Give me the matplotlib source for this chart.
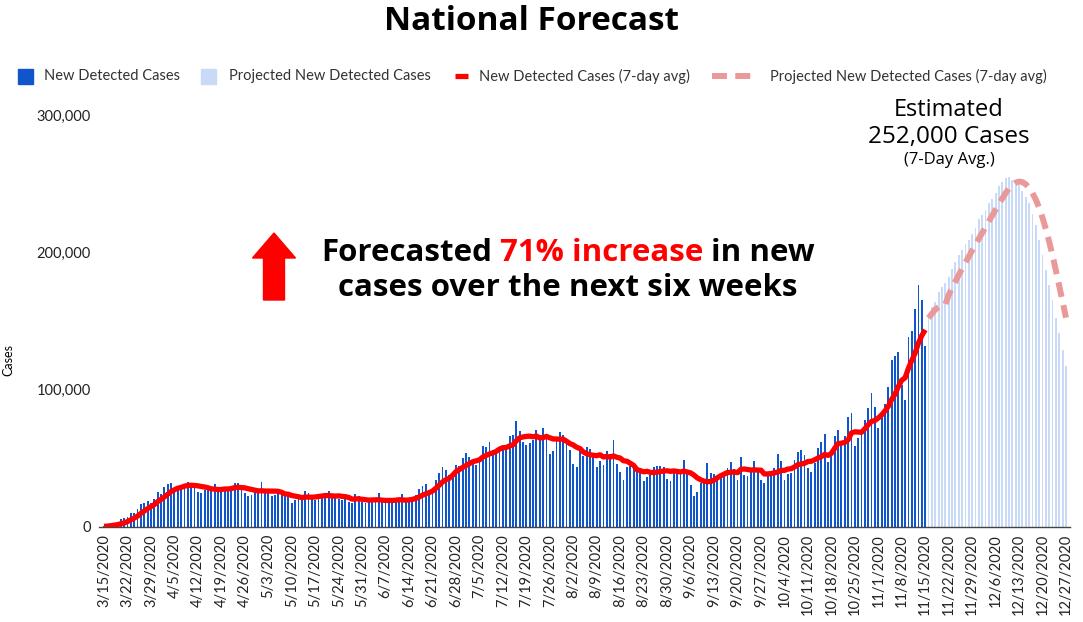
import numpy as np
import pandas as pd
import matplotlib
matplotlib.use("Agg")
import matplotlib.pyplot as plt
from matplotlib.patches import Rectangle, FancyArrow
from matplotlib.lines import Line2D

plt.rcParams['font.family'] = ['Lato', 'DejaVu Sans']

# daily new detected cases (thousands), one row per week starting Sun 3/15/2020
observed_k = [
    0.5, 0.8, 1.5, 2.5, 3.2, 5.6, 6.5,
    7.5, 10, 10, 12.9, 16.8, 17.7, 18.7,
    17.7, 20.2, 25.5, 24, 29.4, 31.3, 32.3,
    27, 28.2, 29.4, 30.6, 33, 32.3, 31,
    25.5, 24.5, 27, 27, 27, 31.3, 28.5,
    26, 27, 27, 29, 32.3, 32.3, 27,
    25, 22.6, 23.3, 25.8, 28, 33, 25.7,
    24.5, 22.6, 23.3, 24.5, 23.3, 24.5, 24.5,
    17.7, 19.7, 20.2, 19.7, 26.5, 24.5, 23.3,
    19.3, 22.2, 22.2, 22.2, 26.5, 22.9, 22.2,
    20.5, 19.7, 20.5, 18.5, 17.7, 24, 22.6,
    18.5, 17.3, 18.5, 19.2, 18.5, 24.5, 20.2,
    17.3, 17.3, 18.5, 20.2, 20.9, 24, 18.5,
    18.5, 20.2, 23.3, 27.5, 29.9, 31.3, 24.5,
    26.5, 34.3, 39, 44, 41.6, 38, 40.3,
    45.2, 44.5, 50, 54, 51, 47.4, 45.2,
    50, 59, 58, 62, 56, 55, 57.3,
    57, 60, 66, 67, 77, 70, 62,
    60, 61, 63, 70.7, 67, 72, 68,
    53, 55, 63, 69.5, 67, 61.5, 56,
    46, 43.5, 56.5, 52, 58, 56.5, 53,
    44, 48, 45.5, 55, 53.5, 63.4, 46,
    40, 34, 43.5, 44.5, 42.8, 41.6, 41,
    33.8, 36.7, 38, 44, 44.5, 44.5, 44,
    34.8, 33.8, 40.3, 41.6, 41.6, 49, 39,
    30.6, 22.6, 25.8, 32.3, 34.3, 46.4, 39.6,
    38.4, 34.3, 36, 40.3, 42.8, 47.1, 42,
    34.3, 51.3, 37.9, 37.4, 40.3, 48.4, 40.3,
    34.3, 31.8, 37.9, 39.6, 43.3, 53.2, 48.4,
    34.3, 38.6, 39.6, 48.8, 54.9, 56.1, 52.5,
    43.3, 39.9, 46.9, 57.8, 62, 67.6, 47.4,
    53.7, 65.9, 70.7, 60, 66, 80.4, 82.9,
    59.3, 64.6, 69.5, 78, 86.5, 97.4, 87.7,
    71.9, 80.4, 89.4, 102.3, 121.3, 124.2, 127.1,
    103.5, 92.6, 138.3, 142.4, 158.7, 175.9, 165,
    132,
]

# projected daily cases (thousands), 11/16 - 12/27
projected_k = [
    153, 160, 164, 171, 175, 178, 182, 188, 193, 198,
    202, 206, 209, 213, 218, 224, 227, 231, 236, 239,
    243, 248, 251, 254, 255, 253, 251, 249, 245, 240,
    236, 228, 220, 209, 198, 187, 176, 165, 152, 141,
    129, 117,
]

start_date = "2020-03-15"
y_ticks = [0, 100000, 200000, 300000]

observed = np.array(observed_k) * 1000
projected = np.array(projected_k) * 1000
n_obs = len(observed)
n_all = n_obs + len(projected)
days = np.arange(n_all)
dates = pd.date_range(start_date, periods=n_all)

avg = pd.Series(np.concatenate([observed, projected])).rolling(7, min_periods=1).mean().values

W, H = 1083, 622
fig = plt.figure(figsize=(W / 100, H / 100), dpi=100)
ax = fig.add_axes([99 / W, 1 - 527 / H, 971 / W, 412 / H])

dark_blue = '#1155cc'
light_blue = '#c9daf8'
red = '#ff0000'
pink = '#ea9999'

ax.bar(days[:n_obs], observed, width=0.55, color=dark_blue, linewidth=0)
ax.bar(days[n_obs:], projected, width=0.55, color=light_blue, linewidth=0)
ax.plot(days[:n_obs], avg[:n_obs], color=red, lw=3.8, solid_capstyle='butt', zorder=3)
ax.plot(days[n_obs:], avg[n_obs:], color=pink, lw=4.3, dashes=(2.5, 1.4),
        dash_capstyle='butt', zorder=3)

ax.set_xlim(-1.5, 288.2)
ax.set_ylim(0, 300000)
ax.set_yticks(y_ticks)
ax.set_yticklabels([f"{v:,}" for v in y_ticks], fontsize=10.5, color='#222222')
ax.set_xticks(days[::7])
ax.set_xticklabels([f"{d.month}/{d.day}/{d.year}" for d in dates[::7]],
                   rotation=90, fontsize=10.5, color='#222222')
ax.tick_params(axis='both', length=0)
ax.tick_params(axis='x', pad=5)
ax.tick_params(axis='y', pad=6)
for s in ['top', 'right', 'left']:
    ax.spines[s].set_visible(False)
ax.spines['bottom'].set_color('#444444')
ax.spines['bottom'].set_linewidth(1)

fig.text(8 / W, 1 - 360 / H, "Cases", rotation=90, fontsize=9, ha='center', va='center')

# title
fig.text(532 / W, 1 - 22 / H, "National Forecast", fontsize=24, fontweight='bold',
         family=['Open Sans', 'DejaVu Sans'], ha='center', va='center')

# legend, drawn by hand
ly = 1 - 76 / H
sq = 15
fig.add_artist(Rectangle((18 / W, ly - sq / 2 / H), sq / W, sq / H, color=dark_blue,
                         transform=fig.transFigure))
fig.text(44 / W, ly, "New Detected Cases", fontsize=10.5, color='#333333', va='center')
fig.add_artist(Rectangle((201 / W, ly - sq / 2 / H), sq / W, sq / H, color=light_blue,
                         transform=fig.transFigure))
fig.text(229 / W, ly, "Projected New Detected Cases", fontsize=10.5, color='#333333', va='center')
fig.add_artist(Line2D([455 / W, 468 / W], [ly, ly], color=red, lw=3.8,
                      solid_capstyle='butt', transform=fig.transFigure))
fig.text(479 / W, ly, "New Detected Cases (7-day avg)", fontsize=10.5, color='#333333', va='center')
fig.add_artist(Line2D([712 / W, 752 / W], [ly, ly], color=pink, lw=4.3, dashes=(2.5, 1.4),
                      dash_capstyle='butt', transform=fig.transFigure))
fig.text(770 / W, ly, "Projected New Detected Cases (7-day avg)", fontsize=10.5,
         color='#333333', va='center')

# peak annotation
note_font = dict(family=['Open Sans', 'DejaVu Sans'], ha='center', va='center')
fig.text(949 / W, 1 - 110 / H, "Estimated", fontsize=17, **note_font)
fig.text(949 / W, 1 - 137 / H, "252,000 Cases", fontsize=17.5, **note_font)
fig.text(949 / W, 1 - 160 / H, "(7-Day Avg.)", fontsize=12, **note_font)

# forecast message with a red middle part
renderer = fig.canvas.get_renderer()
msg_font = dict(fontsize=22.5, fontweight='bold', family=['Open Sans', 'DejaVu Sans'])


def text_width(s):
    t1 = fig.text(0, 0, s + "|", **msg_font)
    t2 = fig.text(0, 0, "|", **msg_font)
    w = t1.get_window_extent(renderer).width - t2.get_window_extent(renderer).width
    t1.remove()
    t2.remove()
    return w


def colored_line(parts, cx, cy):
    full = "".join(p for p, _ in parts)
    x = cx - text_width(full) / 2
    for p, c in parts:
        lead = len(p) - len(p.lstrip())
        off = text_width(" " * lead) if lead else 0
        fig.text((x + off) / W, 1 - cy / H, p.strip(), color=c, va='center', ha='left', **msg_font)
        x += text_width(p)


colored_line([("Forecasted ", 'black'), ("71% increase", red), (" in new", 'black')], 568, 253)
colored_line([("cases over the next six weeks", 'black')], 568, 288)

fig.add_artist(FancyArrow(2.74, (H - 300) / 100, 0, 0.67, width=0.21, head_width=0.43,
                          head_length=0.25, length_includes_head=True, color=red,
                          transform=fig.dpi_scale_trans))

fig.savefig("out.png", dpi=100)
